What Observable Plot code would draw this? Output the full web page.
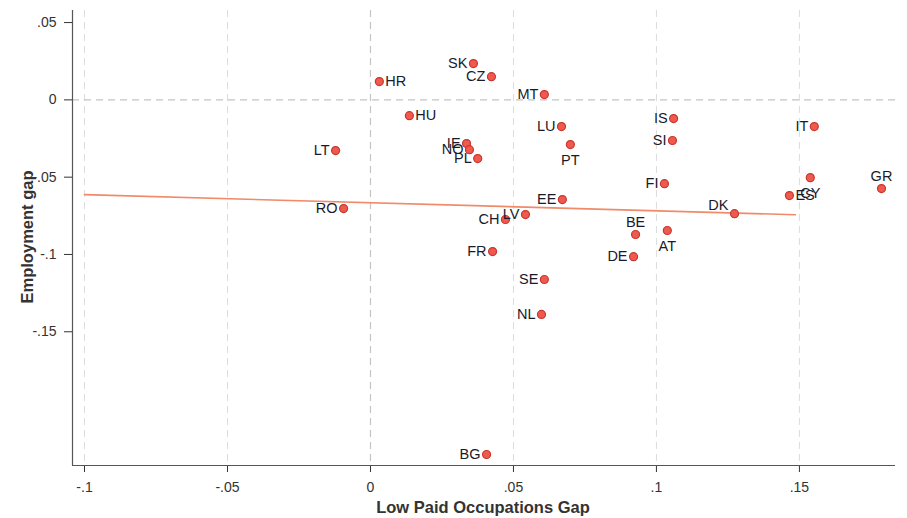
<!DOCTYPE html>
<html><head><meta charset="utf-8">
<script src="https://cdn.jsdelivr.net/npm/d3@7"></script>
<script src="https://cdn.jsdelivr.net/npm/@observablehq/plot@0.6"></script>
<style>body{margin:0;background:#fff;font-family:"Liberation Sans",Arial,sans-serif}</style>
</head><body><div id="chart"></div>
<script>
const countries = ["SK","CZ","HR","MT","HU","IS","IT","LU","IE","SI","LT","NO","PL","PT","FI","CY","ES","GR","EE","RO","DK","LV","CH","BE","AT","FR","DE","SE","NL","BG"];
const lowPaidGap = [0.036,0.0423,0.0031,0.0608,0.0136,0.106,0.1552,0.0668,0.0336,0.1056,-0.0122,0.0346,0.0375,0.0699,0.1028,0.1538,0.1465,0.1787,0.0671,-0.0094,0.1273,0.0542,0.0472,0.0927,0.1038,0.0427,0.092,0.0608,0.0598,0.0406];
const employmentGap = [0.0235,0.015,0.0118,0.0034,-0.0102,-0.0121,-0.0173,-0.0173,-0.0283,-0.0263,-0.0328,-0.0322,-0.038,-0.0289,-0.0542,-0.0503,-0.0619,-0.0574,-0.0645,-0.0703,-0.0736,-0.0742,-0.0774,-0.0871,-0.0845,-0.0981,-0.1014,-0.1162,-0.1388,-0.2294];
const rightLabeled = ["HR","HU","ES"];
const belowLabeled = ["PT","AT","CY"];
const aboveLabeled = ["GR","BE"];
const upperLeftLabeled = ["DK"];
const fitX = [-0.1, 0.1486];
const fitY = [-0.0613, -0.0743];
const xTicks = [-0.1,-0.05,0,0.05,0.1,0.15];
const yTicks = [0.05,0,-0.05,-0.1,-0.15];

const data = countries.map((c,i)=>({c, x: lowPaidGap[i], y: employmentGap[i]}));
const fit = fitX.map((x,i)=>({x, y: fitY[i]}));
const fmt = v => v === 0 ? "0" : (v < 0 ? "-" : "") + String(Math.abs(+v.toFixed(3))).replace(/^0/, "");
const special = [...rightLabeled, ...belowLabeled, ...aboveLabeled, ...upperLeftLabeled];
const lblStyle = {x:"x", y:"y", text:"c", fontSize: 14.5, fill:"#1a1a2a", fontFamily:"Liberation Sans, Arial, sans-serif"};

const chart = Plot.plot({
  width: 907, height: 518,
  marginLeft: 72, marginRight: 12, marginTop: 10, marginBottom: 53,
  style: {fontFamily: "Liberation Sans, Arial, sans-serif", background: "#fff"},
  x: {domain: [-0.1042, 0.1836]},
  y: {domain: [-0.2365, 0.0578]},
  marks: [
    Plot.ruleX(xTicks.filter(d=>d!==0), {stroke:"#dcdcdc", strokeDasharray:"7,5", strokeWidth:1}),
    Plot.ruleX([0], {stroke:"#c4c4c4", strokeDasharray:"7,5", strokeWidth:1.2}),
    Plot.ruleY([0], {stroke:"#c4c4c4", strokeDasharray:"7,5", strokeWidth:1.2}),
    Plot.line(fit, {x:"x", y:"y", stroke:"#f08a68", strokeWidth:1.6}),
    Plot.dot(data, {x:"x", y:"y", r:4, fill:"#f0594e", stroke:"#c8372d", strokeWidth:1.2}),
    Plot.text(data.filter(d=>!special.includes(d.c)), {...lblStyle, textAnchor:"end", dx:-6}),
    Plot.text(data.filter(d=>rightLabeled.includes(d.c)), {...lblStyle, textAnchor:"start", dx:6}),
    Plot.text(data.filter(d=>belowLabeled.includes(d.c)), {...lblStyle, textAnchor:"middle", dy:16}),
    Plot.text(data.filter(d=>aboveLabeled.includes(d.c)), {...lblStyle, textAnchor:"middle", dy:-12}),
    Plot.text(data.filter(d=>upperLeftLabeled.includes(d.c)), {...lblStyle, textAnchor:"end", dx:-6, dy:-8}),
    Plot.axisX({ticks: xTicks, tickFormat: fmt, tickSize: 7, tickPadding: 10, fontSize: 14, color:"#333", label:null}),
    Plot.axisY({ticks: yTicks, tickFormat: fmt, tickSize: 8, tickPadding: 8, fontSize: 14, color:"#333", label:null}),
    Plot.ruleX([-0.1042], {stroke:"#555", strokeWidth:1.2}),
    Plot.ruleY([-0.2365], {stroke:"#555", strokeWidth:1.2})
  ]
});
const svg = d3.select(chart);
svg.append("text").attr("x", 483).attr("y", 513).attr("text-anchor","middle")
  .attr("font-size", 16.5).attr("font-weight","bold").attr("fill","#333").text("Low Paid Occupations Gap");
svg.append("text").attr("transform","translate(33,237) rotate(-90)").attr("text-anchor","middle")
  .attr("font-size", 16.5).attr("font-weight","bold").attr("fill","#333").text("Employment gap");
document.getElementById("chart").appendChild(chart);
</script></body></html>
